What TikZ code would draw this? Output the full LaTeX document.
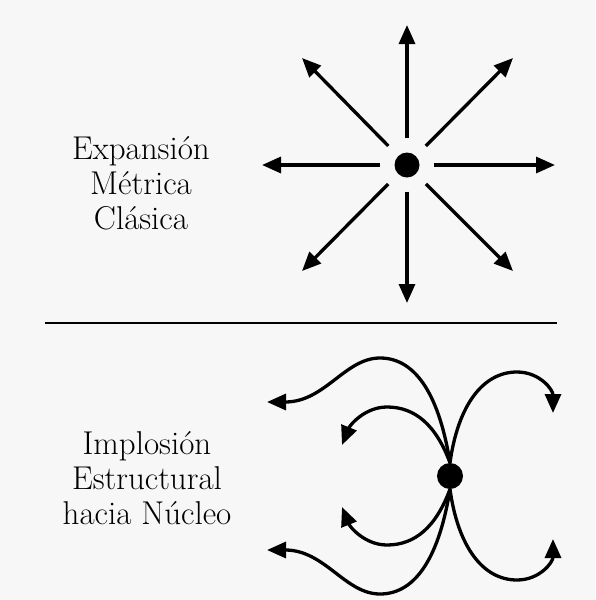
\documentclass[tikz,border=0pt]{standalone}
\usepackage{fontspec}
\usetikzlibrary{arrows.meta}
\definecolor{bg}{RGB}{247,247,247}
\begin{document}
\begin{tikzpicture}[x=1pt,y=-1pt,
  arr/.style={line width=3.3pt,-{Triangle[length=19pt,width=16pt]}},
  dotnode/.style={circle,fill=black,inner sep=0pt,minimum size=25pt},
  lbl/.style={align=center,font=\fontsize{33}{35}\selectfont}]
\fill[bg] (0,0) rectangle (595,600);
\useasboundingbox (0,0) rectangle (595,600);
% top star
\node[dotnode] (c1) at (407,165) {};
\coordinate (tN) at (407,25);
\coordinate (tS) at (407,303);
\coordinate (tW) at (262,165);
\coordinate (tE) at (555,165);
\coordinate (tNW) at (302,58);
\coordinate (tNE) at (513,58);
\coordinate (tSW) at (302,271);
\coordinate (tSE) at (513,271);
\foreach \t in {tN,tS,tW,tE,tNW,tNE,tSW,tSE}
  \draw[arr,shorten <=14pt] (c1) -- (\t);
\node[lbl] (txt1) at (141,183) {Expansión\\Métrica\\Clásica};
% separator
\coordinate (sepL) at (45,323);
\coordinate (sepR) at (557,323);
\draw[line width=2.2pt] (sepL) -- (sepR);
% bottom
\node[dotnode,minimum size=26pt] (c2) at (450,476) {};
\coordinate (a1) at (267,402);
\coordinate (a2) at (342,445);
\coordinate (a3) at (553,413);
\coordinate (b1) at (267,550);
\coordinate (b2) at (342,507);
\coordinate (b3) at (553,539);
\draw[arr] (c2.north) .. controls (440,400) and (418,358) .. (380,358)
  .. controls (345,358) and (325,402) .. (a1);
\draw[arr] (c2.north) .. controls (436,425) and (415,407) .. (387,407)
  .. controls (365,407) and (350,425) .. (a2);
\draw[arr] (c2.north) .. controls (458,405) and (483,372) .. (517,372)
  .. controls (540,372) and (553,390) .. (a3);
\draw[arr] (c2.south) .. controls (440,552) and (418,594) .. (380,594)
  .. controls (345,594) and (325,550) .. (b1);
\draw[arr] (c2.south) .. controls (436,527) and (415,545) .. (387,545)
  .. controls (365,545) and (350,527) .. (b2);
\draw[arr] (c2.south) .. controls (458,547) and (483,580) .. (517,580)
  .. controls (540,580) and (553,562) .. (b3);
\node[lbl] (txt2) at (147,478) {Implosión\\Estructural\\hacia Núcleo};
\end{tikzpicture}
\end{document}
